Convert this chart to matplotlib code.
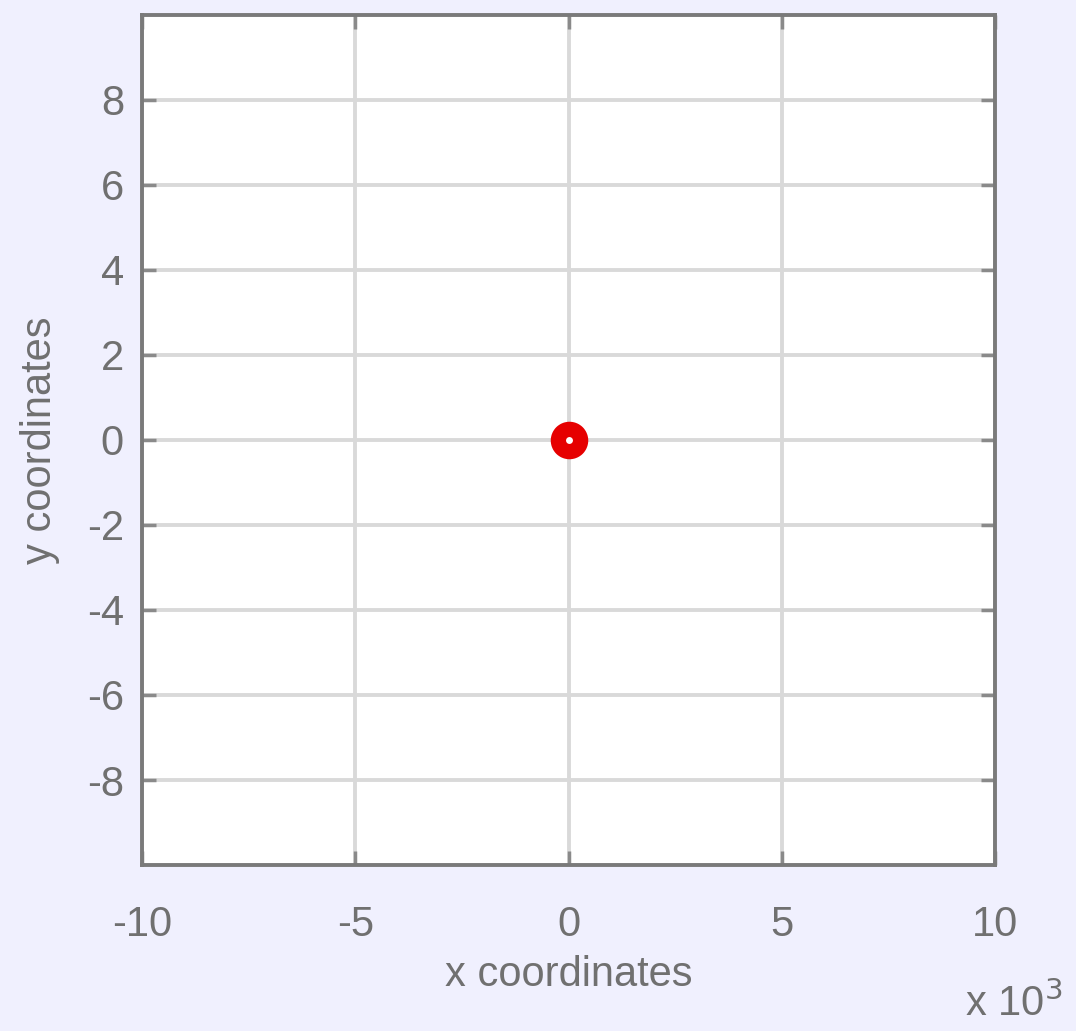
import numpy as np
import matplotlib.pyplot as plt

# point to plot (x in raw units, y)
px = [0]
py = [0]

xticks = [-10000, -5000, 0, 5000, 10000]
xticklabels = ['-10', '-5', '0', '5', '10']
yticks = [-8, -6, -4, -2, 0, 2, 4, 6, 8]

plt.rcParams['font.family'] = ['Liberation Sans', 'DejaVu Sans']
plt.rcParams['axes.unicode_minus'] = False

fig = plt.figure(figsize=(10.76, 10.31), dpi=100, facecolor='#F0F0FE')
ax = fig.add_axes([0.132, 0.161, 0.7927, 0.8245])
ax.set_facecolor('white')

ax.plot(px, py, 'o', color='#E60000', mfc='white', mec='#E60000',
        ms=16, mew=11, zorder=3)

ax.set_xlim(-10000, 10000)
ax.set_ylim(-10, 10)
ax.set_xticks(xticks)
ax.set_xticklabels(xticklabels)
ax.set_yticks(yticks)

ax.grid(True, color='#D9D9D9', linewidth=2.8, linestyle='-')
ax.set_axisbelow(True)

for s in ax.spines.values():
    s.set_color('#7A7A7A')
    s.set_linewidth(2.8)

ax.tick_params(direction='in', length=10, width=2.5, color='#8A8A8A',
               top=True, right=True, labelsize=30, labelcolor='#707070')
ax.tick_params(axis='x', pad=29)
ax.tick_params(axis='y', pad=13)

ax.set_xlabel('x coordinates', fontsize=30, color='#707070', labelpad=7)
ax.set_ylabel('y coordinates', fontsize=30, color='#707070', labelpad=19)

fig.text(0.897, 0.006, r'x 10$^3$', fontsize=30, color='#707070',
         ha='left', va='bottom')

fig.savefig('out.png', dpi=100, facecolor=fig.get_facecolor())
